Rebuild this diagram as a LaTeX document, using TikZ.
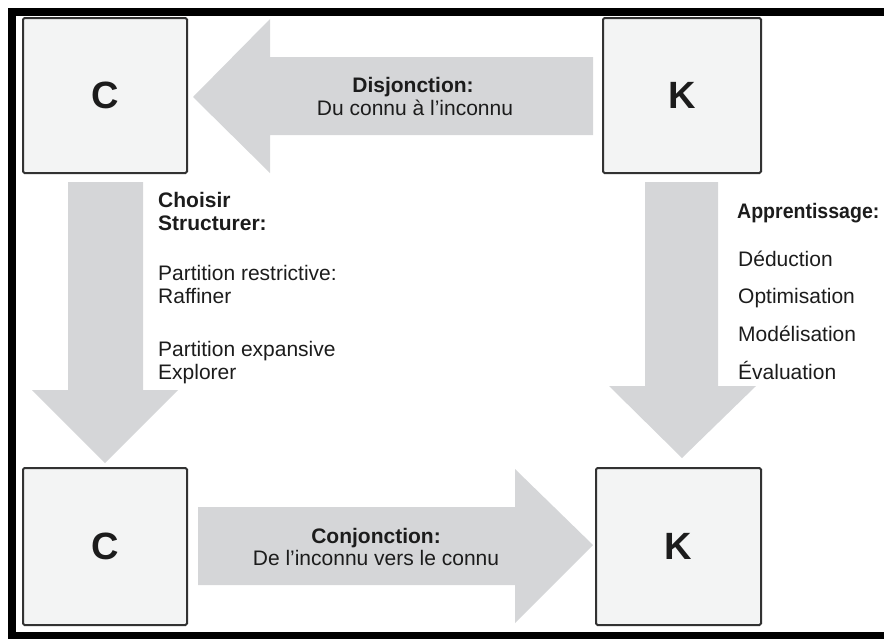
\documentclass[tikz,border=0pt]{standalone}
\usepackage{fontspec}
\setmainfont{Liberation Sans}
\usetikzlibrary{positioning}

\definecolor{boxfill}{RGB}{243,244,244}
\definecolor{boxline}{RGB}{50,50,50}
\definecolor{arrowgray}{RGB}{213,214,216}
\definecolor{ink}{RGB}{28,28,28}

\begin{document}
\begin{tikzpicture}[x=1pt,y=-1pt,
    box/.style={draw=boxline, line width=2pt, fill=boxfill, rounded corners=1.5pt,
        inner sep=0pt, text=ink, font=\fontsize{38}{40}\selectfont\bfseries},
    blockarrow/.style={fill=arrowgray, draw=none},
    lbl/.style={inner sep=0pt, text=ink, font=\fontsize{21}{23}\selectfont},
    lblb/.style={lbl, font=\fontsize{21}{23}\selectfont\bfseries}]
    \useasboundingbox (0,0) rectangle (884,638);
    \clip (0,0) rectangle (884,638);

    % frame
    \draw[line width=8pt] (900,12) -- (12,12) -- (12,636) -- (900,636);

    % boxes
    \node[box, minimum width=164pt, minimum height=155pt] (c_top) at (105,95.5) {C};
    \node[box, minimum width=158pt, minimum height=155pt] (k_top) at (682,95.5) {K};
    \node[box, minimum width=164pt, minimum height=157pt] (c_bot) at (105,546.5) {C};
    \node[box, minimum width=165pt, minimum height=157pt] (k_bot) at (678.5,546.5) {K};

    % block arrows
    \fill[blockarrow] (193,97) -- (270,19) -- (270,57) -- (593,57) -- (593,135)
        -- (270,135) -- (270,173) -- cycle;
    \fill[blockarrow] (68,182) -- (143,182) -- (143,390) -- (178,390) -- (105,463)
        -- (32,390) -- (68,390) -- cycle;
    \fill[blockarrow] (645,182) -- (718,182) -- (718,386) -- (756,386) -- (682,458)
        -- (609,386) -- (645,386) -- cycle;
    \fill[blockarrow] (198,507) -- (515,507) -- (515,469) -- (593,545) -- (515,623)
        -- (515,585) -- (198,585) -- cycle;

    % arrow labels
    \node[lblb, anchor=base] (disj) at (413,92) {Disjonction:};
    \node[lbl, anchor=base] (disj_txt) at (415,115) {Du connu à l’inconnu};
    \node[lblb, anchor=base] (conj) at (376,543) {Conjonction:};
    \node[lbl, anchor=base] (conj_txt) at (376,565) {De l’inconnu vers le connu};

    % left column
    \node[lblb, anchor=base west] (choisir) at (158,207) {Choisir};
    \node[lblb, anchor=base west] (struct) at (158,230) {Structurer:};
    \node[lbl, anchor=base west] (restr) at (158,280) {Partition restrictive:};
    \node[lbl, anchor=base west] (raff) at (158,303) {Raffiner};
    \node[lbl, anchor=base west] (expan) at (158,356) {Partition expansive};
    \node[lbl, anchor=base west] (expl) at (158,379) {Explorer};

    % right column
    \node[lblb, anchor=base west] (appr) at (737,218) {\scalebox{0.93}[1]{Apprentissage:}};
    \node[lbl, anchor=base west] (dedu) at (738,266) {Déduction};
    \node[lbl, anchor=base west] (opti) at (738,303) {Optimisation};
    \node[lbl, anchor=base west] (mode) at (738,341) {Modélisation};
    \node[lbl, anchor=base west] (eval) at (738,379) {Évaluation};
\end{tikzpicture}
\end{document}
